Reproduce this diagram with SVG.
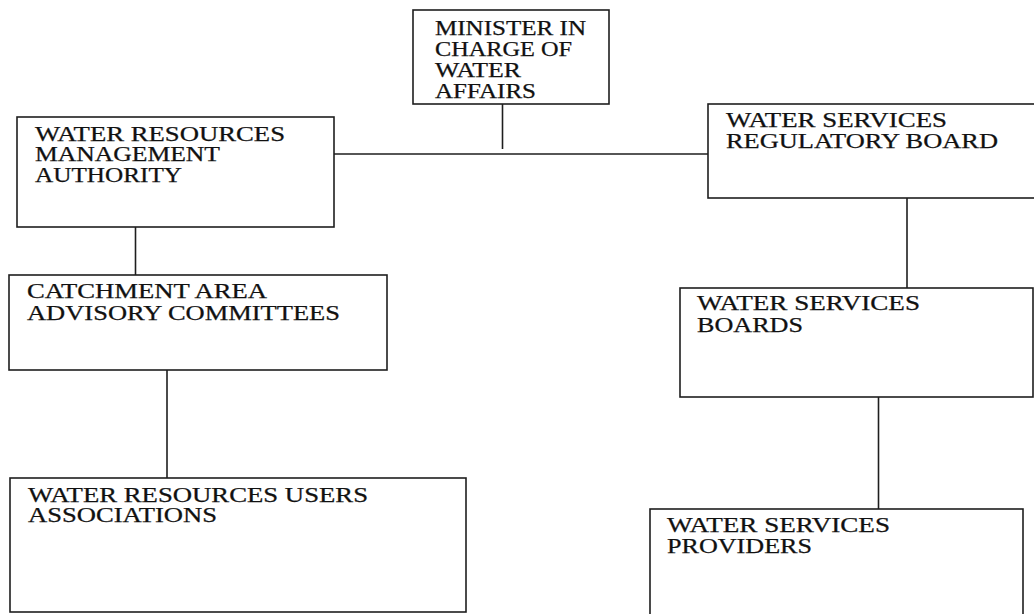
<svg xmlns="http://www.w3.org/2000/svg" width="1034" height="614" viewBox="0 0 1034 614">
  <style>
    .box { fill: #ffffff; stroke: #1e1e1e; stroke-width: 1.6; }
    .link { fill: none; stroke: #1e1e1e; stroke-width: 1.6; }
    .label { font-family: "Liberation Serif", "Times New Roman", serif; font-size: 20px; fill: #111111; stroke: #111111; stroke-width: 0.25; }
  </style>
  <rect width="1034" height="614" fill="#ffffff"/>

  <!-- connectors -->
  <g id="connectors">
    <line class="link" x1="502.5" y1="104" x2="502.5" y2="149"/>
    <line class="link" x1="334" y1="154" x2="708" y2="154"/>
    <line class="link" x1="135.5" y1="227" x2="135.5" y2="275"/>
    <line class="link" x1="167" y1="370" x2="167" y2="478"/>
    <line class="link" x1="907" y1="198" x2="907" y2="288"/>
    <line class="link" x1="878.5" y1="397" x2="878.5" y2="509"/>
  </g>

  <g id="minister">
    <rect class="box" x="413" y="10" width="196" height="94"/>
    <text class="label" x="435" y="35" textLength="151" lengthAdjust="spacingAndGlyphs">MINISTER IN</text>
    <text class="label" x="435" y="56" textLength="137" lengthAdjust="spacingAndGlyphs">CHARGE OF</text>
    <text class="label" x="435" y="77" textLength="86" lengthAdjust="spacingAndGlyphs">WATER</text>
    <text class="label" x="435" y="98" textLength="101" lengthAdjust="spacingAndGlyphs">AFFAIRS</text>
  </g>

  <g id="wrma">
    <rect class="box" x="17" y="117" width="317" height="110"/>
    <text class="label" x="35" y="141" textLength="250" lengthAdjust="spacingAndGlyphs">WATER RESOURCES</text>
    <text class="label" x="35" y="161" textLength="185" lengthAdjust="spacingAndGlyphs">MANAGEMENT</text>
    <text class="label" x="35" y="182" textLength="147" lengthAdjust="spacingAndGlyphs">AUTHORITY</text>
  </g>

  <g id="wsrb">
    <rect class="box" x="708" y="104" width="340" height="94"/>
    <text class="label" x="726" y="127" textLength="221" lengthAdjust="spacingAndGlyphs">WATER SERVICES</text>
    <text class="label" x="726" y="148" textLength="272" lengthAdjust="spacingAndGlyphs">REGULATORY BOARD</text>
  </g>

  <g id="caac">
    <rect class="box" x="9" y="275" width="378" height="95"/>
    <text class="label" x="27" y="298" textLength="240" lengthAdjust="spacingAndGlyphs">CATCHMENT AREA</text>
    <text class="label" x="27" y="320" textLength="313" lengthAdjust="spacingAndGlyphs">ADVISORY COMMITTEES</text>
  </g>

  <g id="wsb">
    <rect class="box" x="680" y="288" width="353" height="109"/>
    <text class="label" x="697" y="310" textLength="223" lengthAdjust="spacingAndGlyphs">WATER SERVICES</text>
    <text class="label" x="697" y="332" textLength="106" lengthAdjust="spacingAndGlyphs">BOARDS</text>
  </g>

  <g id="wrua">
    <rect class="box" x="10" y="478" width="456" height="134"/>
    <text class="label" x="28" y="502" textLength="340" lengthAdjust="spacingAndGlyphs">WATER RESOURCES USERS</text>
    <text class="label" x="28" y="522" textLength="189" lengthAdjust="spacingAndGlyphs">ASSOCIATIONS</text>
  </g>

  <g id="wsp">
    <rect class="box" x="650" y="509" width="373" height="120"/>
    <text class="label" x="667" y="532" textLength="223" lengthAdjust="spacingAndGlyphs">WATER SERVICES</text>
    <text class="label" x="667" y="553" textLength="145" lengthAdjust="spacingAndGlyphs">PROVIDERS</text>
  </g>
</svg>
